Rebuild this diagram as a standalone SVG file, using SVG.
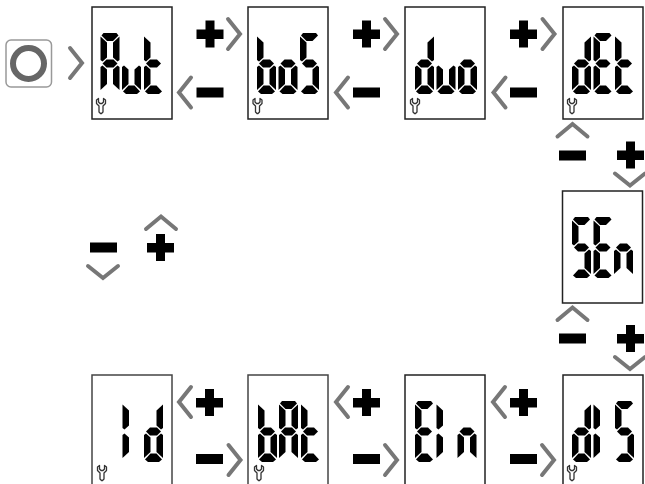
<svg xmlns="http://www.w3.org/2000/svg" width="645" height="484" viewBox="0 0 645 484">
<style>
.box{fill:#fff;stroke:#222;stroke-width:1.5}
.boxb{fill:#fff;stroke:#444;stroke-width:1.5}
.chev{fill:none;stroke:#777;stroke-width:4;stroke-linecap:round;stroke-linejoin:miter}
.seg{fill:#000}
.wr{fill:none;stroke:#333;stroke-width:1.3;stroke-linejoin:round}
</style>
<defs>
<path id="a" class="seg" d="M3.5,0H16.5L18.5,2.500L13,8H7L1.500,2.500Z"/>
<path id="f" class="seg" d="M0.500,3.500L7,9.500V24.500L2.500,28.500L0.500,27Z"/>
<path id="b" class="seg" d="M19.500,3.500L13,9.500V24.500L17.500,28.500L19.500,27Z"/>
<path id="g" class="seg" d="M2.500,30.500L6.500,26.500H13.500L17.500,30.500L13.500,34.500H6.500Z"/>
<path id="e" class="seg" d="M0.500,34L2.500,32.500L7,36.500V51L0.500,57Z"/>
<path id="c" class="seg" d="M19.500,34L17.500,32.500L13,36.500V51L19.500,57Z"/>
<path id="d" class="seg" d="M1.500,58.500L7,52.500H13L18.500,58.500L15.500,61H4.500Z"/>
<g id="dA"><use href="#a"/><use href="#f"/><use href="#b"/><use href="#g"/><use href="#e"/><use href="#c"/></g>
<g id="du"><use href="#e"/><use href="#c"/><use href="#d"/></g>
<g id="dt"><use href="#f"/><use href="#g"/><use href="#e"/><use href="#d"/></g>
<g id="db"><use href="#f"/><use href="#g"/><use href="#e"/><use href="#c"/><use href="#d"/></g>
<g id="do"><use href="#g"/><use href="#e"/><use href="#c"/><use href="#d"/></g>
<g id="dS"><use href="#a"/><use href="#f"/><use href="#g"/><use href="#c"/><use href="#d"/></g>
<g id="dd"><use href="#b"/><use href="#g"/><use href="#e"/><use href="#c"/><use href="#d"/></g>
<g id="dE"><use href="#a"/><use href="#f"/><use href="#g"/><use href="#e"/><use href="#d"/></g>
<g id="dn"><use href="#g"/><use href="#e"/><use href="#c"/></g>
<g id="dI"><use href="#f"/><use href="#e"/></g>
<path id="wrench" class="wr" d="M-2,0L-4.500,-2.500V-6L-2.500,-7.500V-4L-1,-2.500H1L2.500,-4V-7.500L4.500,-6V-2.500L2,0V6L0.500,7.500H-0.500L-2,6Z"/>
<path id="plus" d="M-4.500,-13.500H4.500V-4.500H13.500V5H4.500V13.500H-4.500V5H-13.500V-4.500H-4.500Z"/>
<rect id="minus" x="-13.500" y="-5" width="27" height="10"/>
<path id="cr" class="chev" d="M-6,-15L6,0L-6,15"/>
<path id="cl" class="chev" d="M6,-15L-6,0L6,15"/>
<path id="cu" class="chev" d="M-15,6L0,-6.500L15,6"/>
<path id="cd" class="chev" d="M-15,-6L0,6L15,-6"/>
</defs>

<g id="connectors">
<use href="#cr" x="76" y="63"/>
<use href="#plus" x="210" y="34"/><use href="#cr" x="234" y="34"/>
<use href="#minus" x="210" y="92.500"/><use href="#cl" x="185" y="92.500"/>
<use href="#plus" x="366.500" y="34"/><use href="#cr" x="391" y="34"/>
<use href="#minus" x="366.500" y="92.500"/><use href="#cl" x="342" y="92.500"/>
<use href="#plus" x="523.500" y="34"/><use href="#cr" x="548.500" y="34"/>
<use href="#minus" x="523.500" y="92.500"/><use href="#cl" x="499.500" y="92.500"/>
<use href="#cu" x="572.500" y="130.500"/><use href="#minus" x="572.500" y="155.500"/>
<use href="#plus" x="630.500" y="155"/><use href="#cd" x="630" y="179.500"/>
<use href="#cu" x="572.500" y="314"/><use href="#minus" x="572.500" y="338.500"/>
<use href="#plus" x="630.500" y="338.500"/><use href="#cd" x="630" y="363"/>
<use href="#cu" x="161" y="223"/><use href="#plus" x="160.500" y="247.500"/>
<use href="#minus" x="103.500" y="247.500"/><use href="#cd" x="103" y="272"/>
<use href="#plus" x="209.500" y="402.500"/><use href="#cl" x="185" y="402"/>
<use href="#minus" x="209.500" y="459"/><use href="#cr" x="234.500" y="460"/>
<use href="#plus" x="366.500" y="402.500"/><use href="#cl" x="342" y="402"/>
<use href="#minus" x="366.500" y="459"/><use href="#cr" x="391" y="460"/>
<use href="#plus" x="523.500" y="402.500"/><use href="#cl" x="499" y="402"/>
<use href="#minus" x="523.500" y="459"/><use href="#cr" x="548" y="460"/>
</g>

<g id="power">
<rect x="6" y="40" width="45.500" height="47" rx="5" fill="#fff" stroke="#999" stroke-width="1.500"/>
<circle cx="28.500" cy="63.500" r="15.500" fill="none" stroke="#666" stroke-width="6"/>
</g>

<g id="node-aut"><title>Aut</title><rect class="box" x="92" y="7" width="80" height="112"/>
<use href="#dA" x="100" y="33"/><use href="#du" x="121.500" y="33"/><use href="#dt" x="143.500" y="33"/><use href="#wrench" x="101" y="106"/></g>
<g id="node-bos"><title>boS</title><rect class="box" x="248" y="7" width="80" height="112"/>
<use href="#db" x="256.500" y="33"/><use href="#do" x="278" y="33"/><use href="#dS" x="299.500" y="33"/><use href="#wrench" x="257.500" y="106"/></g>
<g id="node-duo"><title>duo</title><rect class="box" x="405" y="7" width="80" height="112"/>
<use href="#dd" x="414.500" y="33"/><use href="#du" x="436" y="33"/><use href="#do" x="457.500" y="33"/><use href="#wrench" x="415" y="106"/></g>
<g id="node-det"><title>dEt</title><rect class="box" x="563" y="7" width="80" height="112"/>
<use href="#dd" x="571.500" y="33"/><use href="#dE" x="593" y="33"/><use href="#dt" x="614.500" y="33"/><use href="#wrench" x="572" y="106"/></g>
<g id="node-sen"><title>SEn</title><rect class="box" x="562.500" y="191" width="80" height="112"/>
<use href="#dS" x="571.500" y="217"/><use href="#dE" x="593" y="217"/><use href="#dn" x="613.500" y="217"/></g>
<g id="node-id"><title>Id</title><rect class="boxb" x="92" y="375" width="80" height="120"/>
<use href="#dI" x="122" y="401"/><use href="#dd" x="143.500" y="401"/><use href="#wrench" x="102" y="473"/></g>
<g id="node-bat"><title>bAt</title><rect class="boxb" x="248" y="375" width="80" height="120"/>
<use href="#db" x="257.500" y="401"/><use href="#dA" x="278.500" y="401"/><use href="#dt" x="300.500" y="401"/><use href="#wrench" x="259" y="473"/></g>
<g id="node-eln"><title>EIn</title><rect class="box" x="405" y="375" width="80" height="120"/>
<use href="#dE" x="414.500" y="401"/><use href="#dI" x="436" y="401"/><use href="#dn" x="457" y="401"/></g>
<g id="node-ds"><title>dI S</title><rect class="box" x="563" y="375" width="80" height="120"/>
<use href="#dd" x="571.500" y="401"/><use href="#dI" x="593" y="401"/><use href="#dS" x="614.500" y="401"/><use href="#wrench" x="572" y="473"/></g>
</svg>
